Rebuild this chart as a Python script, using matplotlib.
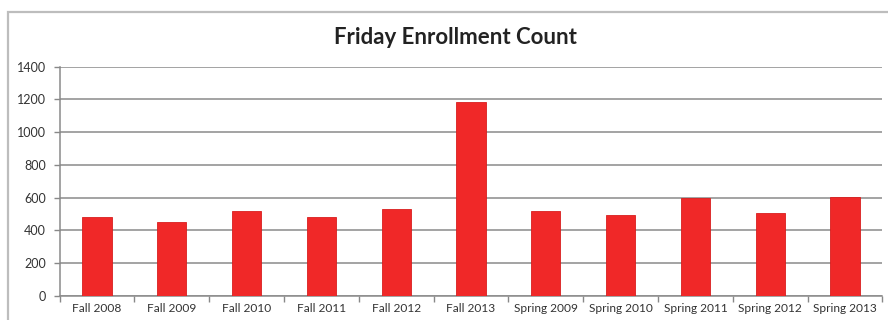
import matplotlib
matplotlib.use("Agg")
import matplotlib.pyplot as plt
from matplotlib.patches import Rectangle
import numpy as np

terms = ["Fall 2008", "Fall 2009", "Fall 2010", "Fall 2011", "Fall 2012", "Fall 2013",
         "Spring 2009", "Spring 2010", "Spring 2011", "Spring 2012", "Spring 2013"]
counts = [480, 454, 519, 484, 533, 1182, 519, 493, 596, 509, 606]
y_ticks = [0, 200, 400, 600, 800, 1000, 1200, 1400]

plt.rcParams["font.family"] = ["Lato", "DejaVu Sans"]

fig = plt.figure(figsize=(8.88, 3.2), dpi=100)
fig.patch.set_facecolor("white")

# outer chart frame
fig.patches.append(Rectangle((8 / 888, -0.1), 1.1, 0.1 + 1 - 12 / 320,
                             transform=fig.transFigure, fill=False,
                             edgecolor="#bdbdbd", linewidth=1.6))

ax = fig.add_axes([59.6 / 888, 1 - 296 / 320, (882.4 - 59.6) / 888, (296 - 66.7) / 320])
x = np.arange(len(terms))
ax.bar(x, counts, width=0.39, color="#F02828", edgecolor="#D81E1E", linewidth=0.6, zorder=3)

ax.set_xlim(-0.5, len(terms) - 0.5)
ax.set_ylim(0, 1400)
ax.set_yticks(y_ticks)
ax.set_yticklabels([str(v) for v in y_ticks], fontsize=9, color="#333333")
ax.set_xticks(x)
ax.set_xticklabels(terms, fontsize=8.6, color="#333333")
ax.xaxis.set_tick_params(length=0, pad=5)
ax.set_xticks(np.arange(-0.5, len(terms), 1.0), minor=True)
ax.xaxis.set_tick_params(which="minor", length=4, color="#888888", width=1)
ax.yaxis.set_tick_params(length=4, color="#888888", width=1, pad=6)

ax.grid(axis="y", color="#8a8a8a", linewidth=1.1, zorder=0)
for s in ["top", "right"]:
    ax.spines[s].set_visible(False)
for s in ["left", "bottom"]:
    ax.spines[s].set_color("#8a8a8a")
    ax.spines[s].set_linewidth(1.1)

fig.text(455 / 888, 1 - 38 / 320, "Friday Enrollment Count", ha="center", va="center",
         fontsize=16, fontweight="bold", color="#222222")

fig.savefig("out.png", dpi=100, facecolor="white")
